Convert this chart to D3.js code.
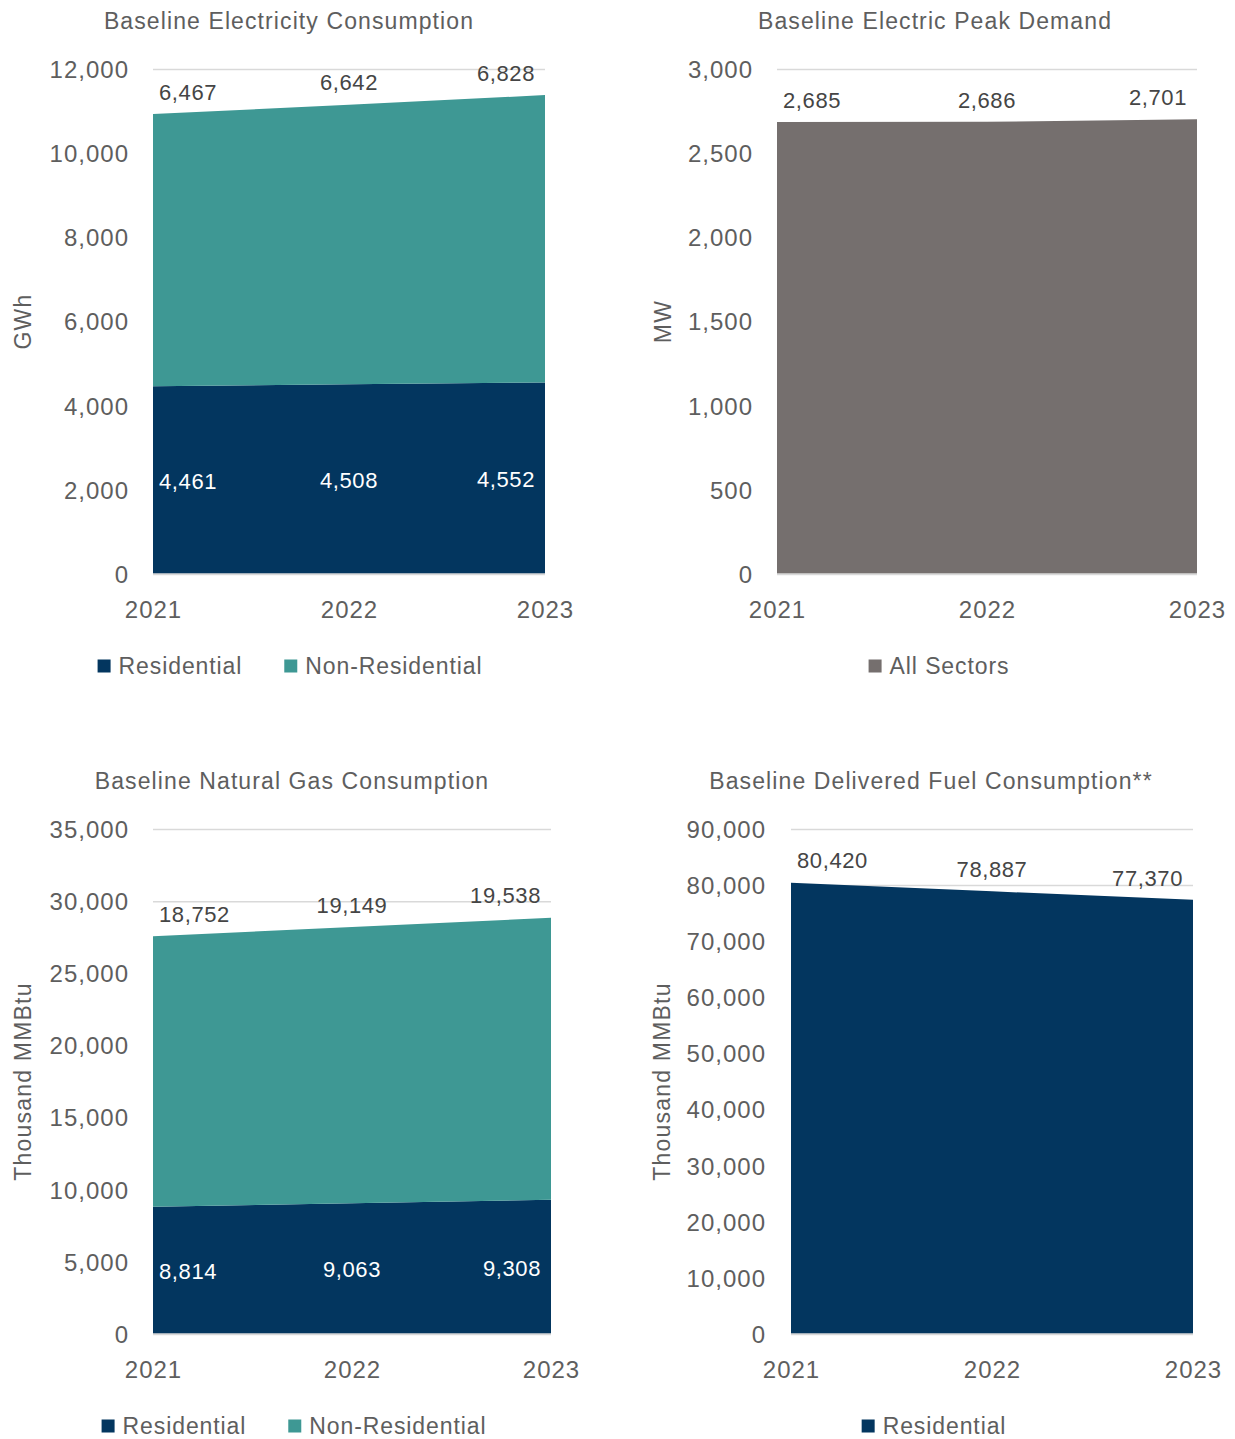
<!DOCTYPE html>
<html>
<head>
<meta charset="utf-8">
<script src="https://cdn.jsdelivr.net/npm/d3@7"></script>
<style>
  html, body { margin: 0; padding: 0; background: #ffffff; }
  svg text { font-family: "Liberation Sans", Arial, sans-serif; fill: #5e5e5e; }
</style>
</head>
<body>
<svg id="chart" width="1235" height="1439"></svg>
<script>
// ---------------- DATA ----------------
const years = ["2021", "2022", "2023"];

const elecResidential = [4461, 4508, 4552];
const elecNonResidential = [6467, 6642, 6828];
const elecTicks = [0, 2000, 4000, 6000, 8000, 10000, 12000];

const peakAllSectors = [2685, 2686, 2701];
const peakTicks = [0, 500, 1000, 1500, 2000, 2500, 3000];

const gasResidential = [8814, 9063, 9308];
const gasNonResidential = [18752, 19149, 19538];
const gasTicks = [0, 5000, 10000, 15000, 20000, 25000, 30000, 35000];

const fuelResidential = [80420, 78887, 77370];
const fuelTicks = [0, 10000, 20000, 30000, 40000, 50000, 60000, 70000, 80000, 90000];

const seriesNames = ["Residential", "Non-Residential", "All Sectors"];
const titles = [
  "Baseline Electricity Consumption",
  "Baseline Electric Peak Demand",
  "Baseline Natural Gas Consumption",
  "Baseline Delivered Fuel Consumption**"
];
const yTitles = ["GWh", "MW", "Thousand MMBtu", "Thousand MMBtu"];

// ---------------- STYLE ----------------
const COLORS = { res: "#03365F", nonres: "#3E9894", all: "#756F6E" };
const GRID = "#d9d9d9";

const panels = [
  { title: titles[0], yTitle: yTitles[0], ticks: elecTicks,
    series: [{ name: seriesNames[0], values: elecResidential, color: COLORS.res, inner: true },
             { name: seriesNames[1], values: elecNonResidential, color: COLORS.nonres }],
    x0: 153, x1: 545, yTop: 69, yBot: 574, tickX: 128, titleX: 289, titleY: 29, yTitleX: 31,
    legendCx: 290, legendY: 666 },
  { title: titles[1], yTitle: yTitles[1], ticks: peakTicks,
    series: [{ name: seriesNames[2], values: peakAllSectors, color: COLORS.all }],
    x0: 777, x1: 1197, yTop: 69, yBot: 574, tickX: 752, titleX: 935, titleY: 29, yTitleX: 671,
    legendCx: 939, legendY: 666 },
  { title: titles[2], yTitle: yTitles[2], ticks: gasTicks,
    series: [{ name: seriesNames[0], values: gasResidential, color: COLORS.res, inner: true },
             { name: seriesNames[1], values: gasNonResidential, color: COLORS.nonres }],
    x0: 153, x1: 551, yTop: 829, yBot: 1334, tickX: 128, titleX: 292, titleY: 789, yTitleX: 31,
    legendCx: 294, legendY: 1426 },
  { title: titles[3], yTitle: yTitles[3], ticks: fuelTicks,
    series: [{ name: seriesNames[0], values: fuelResidential, color: COLORS.res }],
    x0: 791, x1: 1193, yTop: 829, yBot: 1334, tickX: 765, titleX: 931, titleY: 789, yTitleX: 670,
    legendCx: 934, legendY: 1426 }
];

const svg = d3.select("#chart");
const fmt = d3.format(",");

panels.forEach(p => {
  const g = svg.append("g");
  const x = d3.scalePoint().domain(years).range([p.x0, p.x1]);
  const y = d3.scaleLinear().domain([0, d3.max(p.ticks)]).range([p.yBot, p.yTop]);

  // title
  g.append("text").attr("x", p.titleX).attr("y", p.titleY)
    .attr("text-anchor", "middle").style("font-size", "23px")
    .style("letter-spacing", "1.1px").text(p.title);

  // y axis title
  const yMid = (p.yTop + p.yBot) / 2;
  g.append("text").attr("transform", `translate(${p.yTitleX},${yMid}) rotate(-90)`)
    .attr("text-anchor", "middle").style("font-size", "23px")
    .style("letter-spacing", "1.2px").text(p.yTitle);

  // gridlines + y tick labels
  const yAxis = d3.axisLeft(y).tickValues(p.ticks).tickFormat(fmt)
    .tickSize(-(p.x1 - p.x0)).tickPadding(p.x0 - p.tickX);
  const ya = g.append("g").attr("transform", `translate(${p.x0},0)`).call(yAxis);
  ya.select(".domain").remove();
  ya.selectAll(".tick line").attr("stroke", GRID).attr("stroke-width", 1.5);
  ya.selectAll(".tick text").style("font-size", "24px").attr("fill", "#5e5e5e")
    .style("font-family", '"Liberation Sans", Arial, sans-serif')
    .style("letter-spacing", "1px").attr("dx", "1px").attr("dy", "0.35em");

  // stacked areas
  const keys = p.series.map((s, i) => "s" + i);
  const rows = years.map((yr, j) => {
    const r = { year: yr };
    p.series.forEach((s, i) => r["s" + i] = s.values[j]);
    return r;
  });
  const stacked = d3.stack().keys(keys)(rows);
  const area = d3.area()
    .x(d => x(d.data.year))
    .y0(d => y(d[0]))
    .y1(d => y(d[1]));
  g.selectAll("path.area").data(stacked).join("path")
    .attr("class", "area")
    .attr("d", area)
    .attr("fill", (d, i) => p.series[i].color);

  // baseline
  g.append("line").attr("x1", p.x0).attr("x2", p.x1).attr("y1", y(0)).attr("y2", y(0))
    .attr("stroke", GRID).attr("stroke-width", 1.5);

  // data labels
  stacked.forEach((layer, i) => {
    const s = p.series[i];
    layer.forEach((d, j) => {
      const px = x(d.data.year);
      let anchor = "middle", tx = px;
      if (j === 0) { anchor = "start"; tx = px + 6; }
      else if (j === years.length - 1) { anchor = "end"; tx = px - 10; }
      let ty, fill;
      if (s.inner) { ty = (y(d[0]) + y(d[1])) / 2 + 1; fill = "#ffffff"; }
      else { ty = y(d[1]) - 22; fill = "#454545"; }
      g.append("text").attr("x", tx).attr("y", ty).attr("dy", "0.35em")
        .attr("text-anchor", anchor).style("font-size", "22px")
        .style("letter-spacing", "0.6px")
        .style("fill", fill).text(fmt(s.values[j]));
    });
  });

  // x axis labels
  const xAxis = d3.axisBottom(x).tickSize(0).tickPadding(0);
  const xa = g.append("g").attr("transform", `translate(0,${p.yBot})`).call(xAxis);
  xa.select(".domain").remove();
  xa.selectAll(".tick text").style("font-size", "24px").attr("fill", "#5e5e5e")
    .style("font-family", '"Liberation Sans", Arial, sans-serif')
    .style("letter-spacing", "1px")
    .attr("dy", null).attr("y", 44);

  // legend
  const lg = g.append("g");
  const items = p.series.map(s => ({ name: s.name, color: s.color }));
  const sq = 13, gapText = 8, gapItem = 42;
  let cursor = 0;
  const parts = items.map(it => {
    const t = lg.append("text").attr("y", p.legendY).attr("dy", "0.35em")
      .style("font-size", "23px").style("letter-spacing", "0.9px").text(it.name);
    const w = t.node().getComputedTextLength();
    const r = lg.append("rect").attr("width", sq).attr("height", sq)
      .attr("y", p.legendY - sq / 2).attr("fill", it.color);
    const part = { t, r, start: cursor };
    cursor += sq + gapText + w + gapItem;
    return part;
  });
  const total = cursor - gapItem;
  const startX = p.legendCx - total / 2;
  parts.forEach(pt => {
    pt.r.attr("x", startX + pt.start);
    pt.t.attr("x", startX + pt.start + sq + gapText);
  });
});
</script>
</body>
</html>
